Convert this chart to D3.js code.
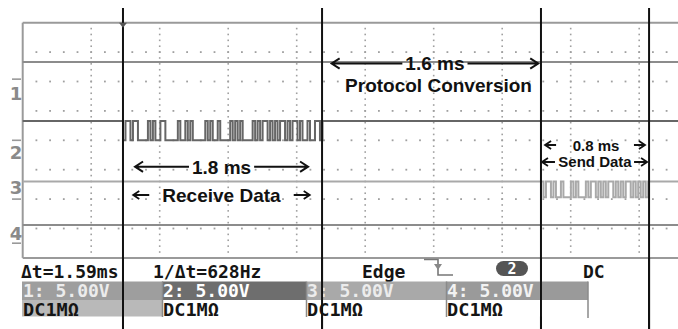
<!DOCTYPE html>
<html><head><meta charset="utf-8">
<script src="https://cdn.jsdelivr.net/npm/d3@7"></script>
<style>html,body{margin:0;padding:0;background:#fff;overflow:hidden}svg{display:block}</style>
</head><body>
<script>
// ---------------- data ----------------
const timeDomainMs = [0, 5];            // 10 divisions x 0.5 ms
const divDomain = [4, -4];              // 8 vertical divisions
const channels = ["1", "2", "3", "4"];
const groundDiv = [2.08, 0, -2.0, -3.5];
const voltsPerDiv = 5;
const idleVolts = [2.9, 3.3, 3.0, 3.1];
const lowVolts = [0, 0, 0.3, 0];
const cursorMs = [0.732, 2.185, 3.783, 4.572];
const bitMs = 0.0182;
const ch2Bits = [0,1,1,0,1,1,0,0,0,0, 1,0,1,0,0,1,1,0,0,0, 0,0,1,0,0,1,0,1,0,0,
                 0,0,0,1,0,1,0,0,1,0, 0,0,0,1,0,1,0,1,0,0, 0,0,1,0,1,0,1,1,0,1,
                 0,1,0,1,1,0,1,0,1,1, 0,1,0,0,1,0,0,1,1,0];
const ch3Bits = [1,0,1,1,0,1,0,0,1,0,0,0,1,0,1,0,0,0,1,0,1,1,0,1,0,1,0,1,1,0,
                 1,0,1,0,1,1,0,1,0,1,0,1,0];
const spanLabels = ["1.8 ms", "1.6 ms", "0.8 ms"];
const spanNames = ["Receive Data", "Protocol Conversion", "Send Data"];
const readouts = ["Δt=1.59ms", "1/Δt=628Hz"];
const triggerType = "Edge";
const triggerSource = "2";
const couplingLabel = "DC";
const scaleLabels = ["1: 5.00V", "2: 5.00V", "3: 5.00V", "4: 5.00V"];
const inputLabels = ["DC1MΩ", "DC1MΩ", "DC1MΩ", "DC1MΩ"];

// ---------------- layout ----------------
const W = 678, H = 329;
const svg = d3.select("body").append("svg").attr("width", W).attr("height", H);
const x = d3.scaleLinear().domain(timeDomainMs).range([22.7, 707.7]);
const y = d3.scaleLinear().domain(divDomain).range([22.7, 257.9]);
const yv = (ci, v) => y(groundDiv[ci] + v / voltsPerDiv);
const mono = "'DejaVu Sans Mono', monospace";
const sans = "'Liberation Sans', Arial, sans-serif";

// grid dots
const dotC = "#a0a0a0";
const gDots = svg.append("g").attr("fill", dotC);
const hStep = (x(0.5) - x(0)) / 5, vStep = (y(3) - y(4)) / 5;
d3.range(3, -4, -1).forEach(k => {
  for (let xx = x(0) + hStep; xx < W; xx += hStep)
    gDots.append("rect").attr("x", xx - 0.9).attr("y", y(k) - 0.9).attr("width", 1.8).attr("height", 1.8);
});
d3.range(1, 10).forEach(k => {
  const xx = x(k * 0.5);
  if (xx > W) return;
  for (let yy = y(4) + vStep; yy < y(-4) - 1; yy += vStep)
    gDots.append("rect").attr("x", xx - 0.8).attr("y", yy - 0.8).attr("width", 1.6).attr("height", 1.6);
});

// frame
const frameC = "#9a9a9a";
svg.append("line").attr("x1", x(0)).attr("x2", W).attr("y1", y(4)).attr("y2", y(4)).attr("stroke", frameC).attr("stroke-width", 2);
svg.append("line").attr("x1", x(0)).attr("x2", W).attr("y1", y(-4)).attr("y2", y(-4)).attr("stroke", frameC).attr("stroke-width", 2);
svg.append("line").attr("x1", x(0)).attr("x2", x(0)).attr("y1", y(4)).attr("y2", y(-4)).attr("stroke", frameC).attr("stroke-width", 2);

// traces
const line = d3.line().x(d => x(d[0])).y(d => d[1]).curve(d3.curveStepAfter);
function tracePts(ci, bits, startMs) {
  const hi = yv(ci, idleVolts[ci]), lo = yv(ci, lowVolts[ci]);
  const pts = [[timeDomainMs[0], hi]];
  if (bits) {
    bits.forEach((b, i) => pts.push([startMs + i * bitMs, b ? hi : lo]));
    pts.push([startMs + bits.length * bitMs, hi]);
  }
  pts.push([timeDomainMs[1], hi]);
  return pts;
}
const traceColors = ["#8c8c8c", "#666", "#a9a9a9", "#8c8c8c"];
const traceBits = [null, ch2Bits, ch3Bits, null];
const traceStart = [0, cursorMs[0], cursorMs[2], 0];
channels.forEach((c, ci) => {
  svg.append("path").attr("d", line(tracePts(ci, traceBits[ci], traceStart[ci])))
    .attr("fill", "none").attr("stroke", traceColors[ci]).attr("stroke-width", 2);
});

// channel markers
const labelDy = [14, 12.5, -12, -10];
channels.forEach((c, ci) => {
  const gy = y(groundDiv[ci]);
  svg.append("line").attr("x1", 12).attr("x2", 21).attr("y1", gy).attr("y2", gy)
    .attr("stroke", "#999").attr("stroke-width", 1.6);
  svg.append("text").attr("x", 16).attr("y", gy + labelDy[ci] + 6.5).attr("text-anchor", "middle")
    .attr("font-family", "'DejaVu Sans', sans-serif").attr("font-weight", "bold").attr("font-size", 18)
    .attr("fill", "#8a8a8a").text(c);
});

// cursors
cursorMs.forEach(t => {
  svg.append("line").attr("x1", x(t)).attr("x2", x(t)).attr("y1", 8).attr("y2", H)
    .attr("stroke", "#111").attr("stroke-width", 2);
});
svg.append("path").attr("d", `M${x(cursorMs[0]) - 4},${y(4)}h8l-4,5z`).attr("fill", "#555");

// annotations
function arrowHead(xt, yy, dir, s) {
  return `M${xt - dir * s},${yy - s * 0.65}L${xt},${yy}L${xt - dir * s},${yy + s * 0.65}`;
}
function spanArrow(x1, x2, yy, label, size, base) {
  const t = svg.append("text").attr("x", (x1 + x2) / 2).attr("y", base).attr("text-anchor", "middle")
    .attr("font-family", sans).attr("font-weight", "bold").attr("font-size", size).attr("fill", "#111").text(label);
  const w = t.node().getComputedTextLength();
  const m = (x1 + x2) / 2;
  const g = svg.append("g").attr("fill", "none").attr("stroke", "#111").attr("stroke-width", 2);
  g.append("path").attr("d", `M${x1},${yy}H${m - w / 2 - 3}` + arrowHead(x1, yy, -1, 8));
  g.append("path").attr("d", `M${m + w / 2 + 3},${yy}H${x2}` + arrowHead(x2, yy, 1, 8));
}
function shortArrow(xt, yy, dir, len) {
  svg.append("path").attr("d", `M${xt - dir * len},${yy}H${xt}` + arrowHead(xt, yy, dir, 6))
    .attr("fill", "none").attr("stroke", "#111").attr("stroke-width", 1.8);
}
function nameRow(x1, x2, yy, label, size, base, alen) {
  svg.append("text").attr("x", (x1 + x2) / 2).attr("y", base).attr("text-anchor", "middle")
    .attr("font-family", sans).attr("font-weight", "bold").attr("font-size", size).attr("fill", "#111").text(label);
  shortArrow(x1, yy, -1, alen);
  shortArrow(x2, yy, 1, alen);
}
// Receive data
spanArrow(x(cursorMs[0] + 0.088), x(cursorMs[1] - 0.102), 166.7, spanLabels[0], 19, 173.5);
nameRow(x(cursorMs[0] + 0.075), x(cursorMs[1] - 0.09), 195, spanNames[0], 19, 201.5, 16);
// Protocol conversion
spanArrow(x(cursorMs[1] + 0.07), x(cursorMs[2] - 0.02), 63.5, spanLabels[1], 19, 70);
svg.append("text").attr("x", x((cursorMs[1] + cursorMs[2]) / 2) + 7).attr("y", 92).attr("text-anchor", "middle")
  .attr("font-family", sans).attr("font-weight", "bold").attr("font-size", 19).attr("fill", "#111").text(spanNames[1]);
// Send data
svg.append("text").attr("x", x((cursorMs[2] + cursorMs[3]) / 2) + 1).attr("y", 150.5).attr("text-anchor", "middle")
  .attr("font-family", sans).attr("font-weight", "bold").attr("font-size", 15).attr("fill", "#111").text(spanLabels[2]);
shortArrow(x(cursorMs[2] + 0.03), 145, -1, 11);
shortArrow(x(cursorMs[3] - 0.03), 145, 1, 11);
svg.append("text").attr("x", x((cursorMs[2] + cursorMs[3]) / 2)).attr("y", 167).attr("text-anchor", "middle")
  .attr("font-family", sans).attr("font-weight", "bold").attr("font-size", 15).attr("fill", "#111").text(spanNames[2]);
shortArrow(x(cursorMs[2]) + 1, 162, -1, 13);
shortArrow(x(cursorMs[3]) - 2, 162, 1, 13);

// bottom readouts
const bt = (xx, yy, s, fill, size) => svg.append("text").attr("x", xx).attr("y", yy)
  .attr("font-family", mono).attr("font-weight", "bold").attr("font-size", size || 18).attr("fill", fill || "#151515").text(s);
bt(21, 278, readouts[0]);
bt(153, 278, readouts[1]);
bt(362, 278, triggerType);
bt(583, 278, couplingLabel);
svg.append("path").attr("d", "M424,259.5H438V275H453").attr("fill", "none").attr("stroke", "#777").attr("stroke-width", 1.6);
svg.append("path").attr("d", "M434,264l4,6l4,-6z").attr("fill", "#888");
svg.append("rect").attr("x", 496).attr("y", 261).attr("width", 32).attr("height", 15).attr("rx", 7.5).attr("fill", "#555");
svg.append("text").attr("x", 512).attr("y", 273.5).attr("text-anchor", "middle").attr("font-family", mono)
  .attr("font-weight", "bold").attr("font-size", 15).attr("fill", "#fff").text(triggerSource);

// channel setting boxes
const boxEdges = [22, 162, 306, 446, 588];
const topFill = ["#9e9e9e", "#6e6e6e", "#a9a9a9", "#9a9a9a"];
const topText = ["#ececec", "#ffffff", "#ececec", "#f2f2f2"];
const botFill = ["#b9b9b9", "#fff", "#fff", "#fff"];
scaleLabels.forEach((s, i) => {
  const x0 = boxEdges[i], w = boxEdges[i + 1] - x0;
  svg.append("rect").attr("x", x0).attr("y", 281.5).attr("width", w).attr("height", 18.5).attr("fill", topFill[i]);
  svg.append("rect").attr("x", x0).attr("y", 300).attr("width", w).attr("height", 16.5).attr("fill", botFill[i]);
  if (i > 0) svg.append("line").attr("x1", x0 + 0.5).attr("x2", x0 + 0.5).attr("y1", 281.5).attr("y2", 317)
    .attr("stroke", "#8a8a8a").attr("stroke-width", 1.5);
  bt(x0 + 1, 297, s, topText[i], 18);
  svg.append("text").attr("x", x0 + 1).attr("y", 315.5).attr("font-family", mono).attr("font-weight", "bold")
    .attr("font-size", 17).attr("fill", "#151515").attr("textLength", 56).attr("lengthAdjust", "spacingAndGlyphs").text(inputLabels[i]);
});
svg.append("line").attr("x1", 588).attr("x2", 588).attr("y1", 281.5).attr("y2", 318).attr("stroke", "#8a8a8a").attr("stroke-width", 1.5);
// cursors over boxes
cursorMs.forEach(t => {
  svg.append("line").attr("x1", x(t)).attr("x2", x(t)).attr("y1", 258).attr("y2", H)
    .attr("stroke", "#111").attr("stroke-width", 2);
});
</script>
</body></html>
